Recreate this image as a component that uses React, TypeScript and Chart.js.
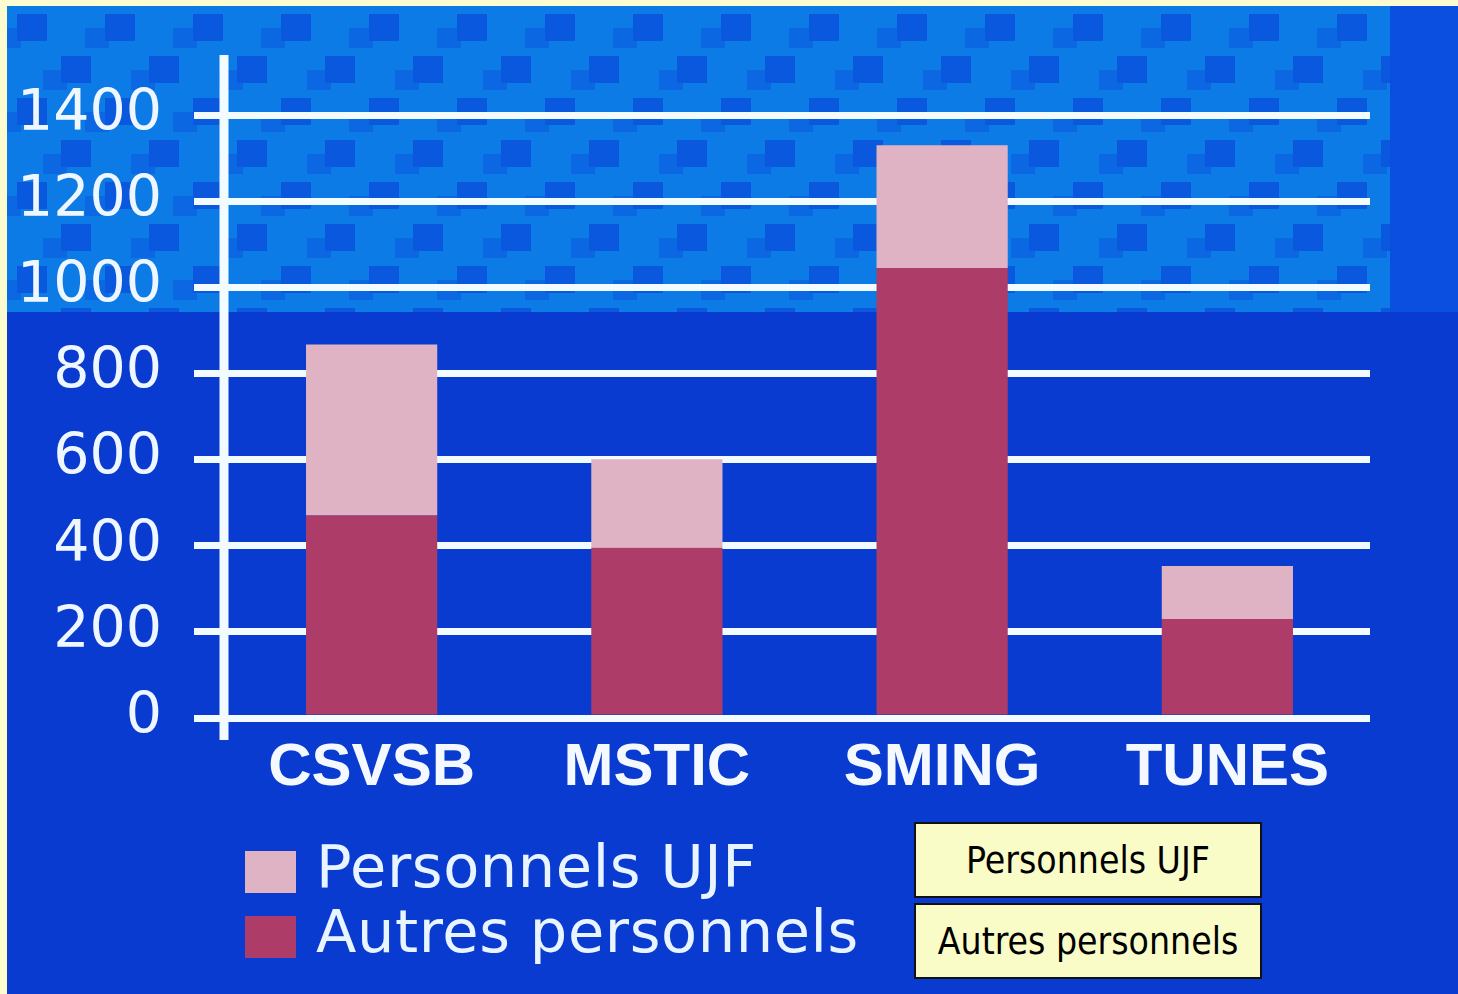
import React, { useEffect, useRef } from "react";
import { Chart, registerables } from "chart.js";

Chart.register(...registerables);

const categories = ["CSVSB", "MSTIC", "SMING", "TUNES"];
const autresPersonnels = [470, 395, 1045, 230];
const personnelsUJF = [397, 206, 285, 123];
const yTicks = [0, 200, 400, 600, 800, 1000, 1200, 1400];
const seriesNames = ["Personnels UJF", "Autres personnels"];
const seriesColors = ["#dfb3c4", "#ad3c68"];

const W = 1458;
const H = 994;

const axisLinePlugin = {
  id: "axisLine",
  beforeDatasetsDraw(chart: any) {
    const { ctx, chartArea } = chart;
    ctx.save();
    ctx.strokeStyle = "#f2fbff";
    ctx.lineWidth = 9;
    ctx.beginPath();
    ctx.moveTo(chartArea.left - 5, chartArea.top - 60);
    ctx.lineTo(chartArea.left - 5, chartArea.bottom + 22);
    ctx.stroke();
    ctx.restore();
  },
};

export default function App() {
  const ref = useRef<HTMLCanvasElement | null>(null);

  useEffect(() => {
    document.body.style.margin = "0";
    document.body.style.overflow = "hidden";
    const canvas = ref.current;
    if (!canvas) return;
    const chart = new Chart(canvas, {
      type: "bar",
      data: {
        labels: categories,
        datasets: [
          {
            label: seriesNames[1],
            data: autresPersonnels,
            backgroundColor: seriesColors[1],
            borderWidth: 0,
            categoryPercentage: 0.46,
            barPercentage: 1,
          },
          {
            label: seriesNames[0],
            data: personnelsUJF,
            backgroundColor: seriesColors[0],
            borderWidth: 0,
            categoryPercentage: 0.46,
            barPercentage: 1,
          },
        ],
      },
      options: {
        responsive: false,
        animation: false,
        devicePixelRatio: 1,
        layout: { padding: { left: 0, top: 115, right: 88, bottom: 176 } },
        plugins: {
          legend: { display: false },
          tooltip: { enabled: false },
        },
        scales: {
          x: {
            stacked: true,
            offset: true,
            afterFit: (s: any) => {
              s.height = 100;
            },
            grid: { display: false, drawTicks: false },
            border: { display: false },
            ticks: {
              color: "#f4f9ff",
              font: { family: "'Liberation Sans', Arial, sans-serif", size: 60, weight: "bold" },
              padding: 14,
              maxRotation: 0,
              autoSkip: false,
            },
          },
          y: {
            stacked: true,
            min: 0,
            max: 1400,
            afterFit: (s: any) => {
              s.width = 229;
            },
            afterBuildTicks: (s: any) => {
              s.ticks = yTicks.map((v) => ({ value: v }));
            },
            border: { display: false },
            grid: { color: "#f2fbff", lineWidth: 7, tickLength: 35, drawTicks: true },
            ticks: {
              color: "#eef7ff",
              font: { family: "'DejaVu Sans', sans-serif", size: 57 },
              padding: 32,
              callback: (v: any) => String(v),
            },
          },
        },
      },
      plugins: [axisLinePlugin],
    });
    return () => chart.destroy();
  }, []);

  const dark = "#0a58de";
  const mid = "#0b68e2";
  const sq = (w: number, h: number, c: string) =>
    `conic-gradient(from 270deg at ${w}px ${h}px, ${c} 0 25%, transparent 0)`;
  const checker = [
    `${sq(30, 27, dark)} 10px 8px / 88px 84px`,
    `${sq(30, 27, dark)} 54px 50px / 88px 84px`,
    `${sq(24, 20, mid)} 36px 64px / 88px 84px`,
    `${sq(24, 20, mid)} 78px 22px / 88px 84px`,
    "#0d7be6",
  ].join(", ");

  return (
    <div
      style={{
        position: "relative",
        width: W,
        height: H,
        background: "#fdfbd0",
        overflow: "hidden",
        fontFamily: "'DejaVu Sans', sans-serif",
      }}
    >
      <div
        style={{
          position: "absolute",
          left: 7,
          top: 6,
          right: 0,
          bottom: 0,
          background: "#0a3bd0",
        }}
      />
      <div
        style={{
          position: "absolute",
          left: 7,
          top: 6,
          width: 1383,
          height: 306,
          background: checker,
        }}
      />
      <div
        style={{
          position: "absolute",
          left: 1390,
          top: 6,
          right: 0,
          height: 306,
          background: "#0a4fe0",
        }}
      />
      <canvas
        ref={ref}
        width={W}
        height={H}
        style={{ position: "absolute", left: 0, top: 0, width: W, height: H }}
      />
      {seriesNames.map((name, i) => (
        <div
          key={name}
          style={{
            position: "absolute",
            left: 245,
            top: 837 + i * 65,
            height: 59,
            display: "flex",
            alignItems: "center",
            color: "#e8f4ff",
            fontSize: 59,
            lineHeight: "59px",
            letterSpacing: 0.6,
            whiteSpace: "nowrap",
          }}
        >
          <span
            style={{
              display: "inline-block",
              width: 51,
              height: 42,
              background: seriesColors[i],
              marginRight: 20,
              marginTop: 10,
            }}
          />
          <span>{name}</span>
        </div>
      ))}
      {seriesNames.map((name, i) => (
        <div
          key={"box" + name}
          style={{
            position: "absolute",
            left: 914,
            top: 822 + i * 81,
            width: 344,
            height: 72,
            border: "2px solid #111",
            background: "#fafcc8",
            display: "flex",
            alignItems: "center",
            justifyContent: "center",
            color: "#000",
            fontFamily: "'DejaVu Sans Condensed', 'DejaVu Sans', sans-serif",
            fontStretch: "condensed",
            fontSize: 37,
            whiteSpace: "nowrap",
          }}
        >
          {name}
        </div>
      ))}
    </div>
  );
}
